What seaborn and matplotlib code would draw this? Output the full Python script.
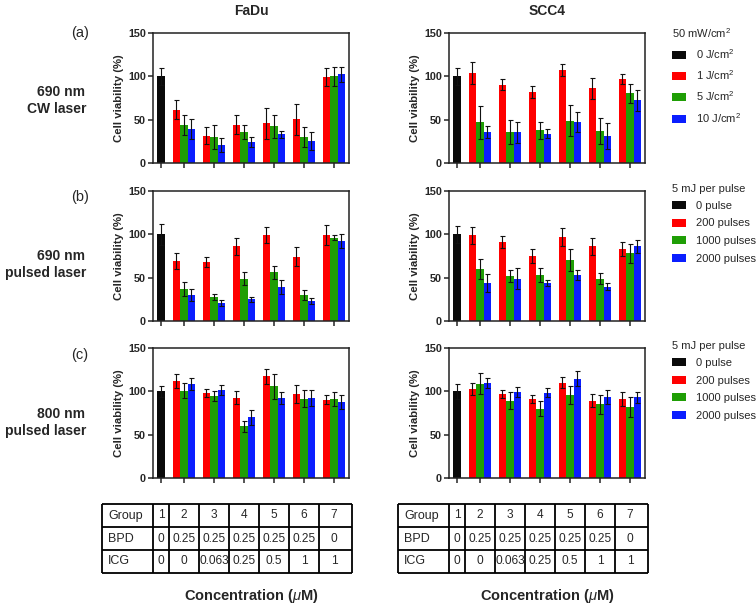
import numpy as np
import pandas as pd
import matplotlib
matplotlib.use("Agg")
import matplotlib.pyplot as plt
import seaborn as sns
from matplotlib.patches import Patch

sns.set_style("ticks")
plt.rcParams["font.family"] = ["Liberation Sans", "DejaVu Sans"]
plt.rcParams["mathtext.fontset"] = "custom"
plt.rcParams["mathtext.rm"] = "Liberation Sans"
plt.rcParams["mathtext.it"] = "Liberation Sans:italic"
plt.rcParams["mathtext.bf"] = "Liberation Sans:bold"

# ---------------- data ----------------
groups = ["1", "2", "3", "4", "5", "6", "7"]
cell_lines = ["FaDu", "SCC4"]
row_tags = ["(a)", "(b)", "(c)"]
row_line1 = ["690 nm", "690 nm", "800 nm"]
row_line2 = ["CW laser", "pulsed laser", "pulsed laser"]
legend_titles = ["50 mW/cm$^2$", "5 mJ per pulse", "5 mJ per pulse"]
cw_labels = ["0 J/cm$^2$", "1 J/cm$^2$", "5 J/cm$^2$", "10 J/cm$^2$"]
pulse_labels = ["0 pulse", "200 pulses", "1000 pulses", "2000 pulses"]
series_colors = ["#0a0a0a", "#ff0000", "#1f9e05", "#0a1eff"]

# (a) 690 nm CW laser
fadu_cw_ctrl, fadu_cw_ctrl_sd = 100, 10
fadu_cw_red = [61.5, 31.5, 44.0, 45.8, 50.4, 99.2]
fadu_cw_red_sd = [11, 10, 11, 18, 18, 10]
fadu_cw_green = [43.8, 30.0, 36.0, 42.3, 30.0, 100.0]
fadu_cw_green_sd = [12, 14, 8, 13, 12, 11]
fadu_cw_blue = [39.2, 21.0, 24.0, 33.0, 25.4, 102.3]
fadu_cw_blue_sd = [12, 8, 6, 4, 10, 9]

scc4_cw_ctrl, scc4_cw_ctrl_sd = 100, 10
scc4_cw_red = [103.8, 90.4, 82.3, 107.0, 86.0, 96.9]
scc4_cw_red_sd = [13, 6, 7, 7, 12, 6]
scc4_cw_green = [47.0, 36.0, 37.7, 49.0, 37.0, 80.4]
scc4_cw_green_sd = [19, 14, 10, 18, 15, 11]
scc4_cw_blue = [35.4, 35.4, 33.8, 47.3, 31.5, 72.3]
scc4_cw_blue_sd = [7, 12, 5, 12, 15, 12]

# (b) 690 nm pulsed laser
fadu_p690_ctrl, fadu_p690_ctrl_sd = 100, 12
fadu_p690_red = [69.2, 68.0, 86.0, 99.0, 74.0, 99.2]
fadu_p690_red_sd = [9, 6, 10, 9, 11, 12]
fadu_p690_green = [37.0, 27.3, 49.0, 56.0, 30.0, 96.0]
fadu_p690_green_sd = [8, 3.5, 7, 8, 5.5, 3]
fadu_p690_blue = [30.0, 20.8, 25.0, 39.0, 23.0, 92.7]
fadu_p690_blue_sd = [7, 3, 2.5, 8, 3, 8]

scc4_p690_ctrl, scc4_p690_ctrl_sd = 100, 10
scc4_p690_red = [98.8, 90.8, 75.4, 96.5, 86.0, 83.0]
scc4_p690_red_sd = [10, 7, 8, 10.5, 10, 8]
scc4_p690_green = [60.0, 52.0, 53.0, 70.0, 48.8, 78.0]
scc4_p690_green_sd = [11, 6.5, 8, 12.7, 6.6, 11]
scc4_p690_blue = [43.8, 48.8, 44.2, 53.0, 39.6, 86.0]
scc4_p690_blue_sd = [10, 12, 3.5, 6, 4, 8]

# (c) 800 nm pulsed laser
fadu_p800_ctrl, fadu_p800_ctrl_sd = 100, 6
fadu_p800_red = [111.5, 98.5, 92.7, 117.3, 97.3, 90.4]
fadu_p800_red_sd = [8, 4.6, 7.3, 8.5, 10.4, 5]
fadu_p800_green = [100.8, 95.0, 59.6, 105.8, 91.5, 91.5]
fadu_p800_green_sd = [9, 5.8, 6, 14.6, 10, 8]
fadu_p800_blue = [108.5, 101.5, 70.0, 92.7, 92.0, 87.3]
fadu_p800_blue_sd = [7, 5.4, 8.5, 7, 9, 8]

scc4_p800_ctrl, scc4_p800_ctrl_sd = 100, 8.5
scc4_p800_red = [103.0, 97.0, 91.5, 110.0, 89.2, 91.0]
scc4_p800_red_sd = [7, 4.6, 4.6, 6.5, 7.8, 7.7]
scc4_p800_green = [109.0, 89.2, 80.0, 96.0, 85.0, 81.5]
scc4_p800_green_sd = [12, 9.6, 8.5, 10.5, 10.8, 11.5]
scc4_p800_blue = [109.6, 99.2, 98.5, 114.6, 93.5, 93.0]
scc4_p800_blue_sd = [6, 5.8, 5, 9, 8.5, 6]

# table
table_rows = ["Group", "BPD", "ICG"]
bpd_conc = ["0", "0.25", "0.25", "0.25", "0.25", "0.25", "0"]
icg_conc = ["0", "0", "0.063", "0.25", "0.5", "1", "1"]

panels = [
    [(fadu_cw_ctrl, fadu_cw_ctrl_sd, fadu_cw_red, fadu_cw_red_sd, fadu_cw_green, fadu_cw_green_sd, fadu_cw_blue, fadu_cw_blue_sd),
     (scc4_cw_ctrl, scc4_cw_ctrl_sd, scc4_cw_red, scc4_cw_red_sd, scc4_cw_green, scc4_cw_green_sd, scc4_cw_blue, scc4_cw_blue_sd)],
    [(fadu_p690_ctrl, fadu_p690_ctrl_sd, fadu_p690_red, fadu_p690_red_sd, fadu_p690_green, fadu_p690_green_sd, fadu_p690_blue, fadu_p690_blue_sd),
     (scc4_p690_ctrl, scc4_p690_ctrl_sd, scc4_p690_red, scc4_p690_red_sd, scc4_p690_green, scc4_p690_green_sd, scc4_p690_blue, scc4_p690_blue_sd)],
    [(fadu_p800_ctrl, fadu_p800_ctrl_sd, fadu_p800_red, fadu_p800_red_sd, fadu_p800_green, fadu_p800_green_sd, fadu_p800_blue, fadu_p800_blue_sd),
     (scc4_p800_ctrl, scc4_p800_ctrl_sd, scc4_p800_red, scc4_p800_red_sd, scc4_p800_green, scc4_p800_green_sd, scc4_p800_blue, scc4_p800_blue_sd)],
]

# ---------------- layout ----------------
W, H = 756, 606
fig = plt.figure(figsize=(W / 100, H / 100), dpi=100)


def fx(px):
    return px / W


def fy(py):
    return 1 - py / H


GX = [0.23, 1, 2, 3, 4, 5, 6]          # group centres
OFF = [-0.25, 0.0, 0.25]              # red, green, blue offsets
XLIM = (-0.03, 6.5)
ax_left = [153, 449]
ax_top = [33, 191, 348]
ax_w, ax_h = 196, 130
series_names = ["s0", "s1", "s2", "s3"]
palette = dict(zip(series_names, series_colors))

for r in range(3):
    for c in range(2):
        ctrl, ctrl_sd, rv, rsd, gv, gsd, bv, bsd = panels[r][c]
        pos, val, sd, ser = [GX[0]], [ctrl], [ctrl_sd], ["s0"]
        for k, (vals, sds) in enumerate([(rv, rsd), (gv, gsd), (bv, bsd)]):
            for i in range(6):
                pos.append(GX[i + 1] + OFF[k])
                val.append(vals[i])
                sd.append(sds[i])
                ser.append(series_names[k + 1])
        df = pd.DataFrame({"pos": pos, "val": val, "sd": sd, "series": ser})
        ax = fig.add_axes([fx(ax_left[c]), fy(ax_top[r] + ax_h), fx(ax_w), ax_h / H])
        sns.barplot(data=df, x="pos", y="val", hue="series", hue_order=series_names,
                    palette=palette, native_scale=True, dodge=False, width=1.0,
                    errorbar=None, legend=False, linewidth=0, saturation=1, ax=ax)
        ax.errorbar(df["pos"], df["val"], yerr=df["sd"], fmt="none", ecolor="#111111",
                    elinewidth=0.8, capsize=1.8, capthick=0.8, zorder=5)
        ax.set_xlim(*XLIM)
        ax.set_ylim(0, 150)
        ax.set_xticks(GX)
        ax.set_xticklabels([])
        ax.set_yticks([0, 50, 100, 150])
        ax.set_yticklabels(["0", "50", "100", "150"], fontweight="bold", fontsize=7.8)
        ax.tick_params(axis="y", length=3.5, width=1.1, pad=1.5)
        ax.tick_params(axis="x", length=3.5, width=1.1)
        ax.set_xlabel("")
        ax.set_ylabel("Cell viability (%)", fontweight="bold", fontsize=8.2, labelpad=3)
        for s in ax.spines.values():
            s.set_visible(True)
            s.set_linewidth(1.1)
            s.set_color("#222222")

# column titles
for c, name in enumerate(cell_lines):
    fig.text(fx(ax_left[c] + ax_w / 2), fy(11), name, ha="center", va="center",
             fontsize=10, fontweight="bold")

# row labels
row_y = [33, 197, 355]
line2_x = [57, 46, 46]
for r in range(3):
    fig.text(fx(80), fy(row_y[r]), row_tags[r], ha="center", va="center", fontsize=10.5)
    fig.text(fx(61), fy(row_y[r] + 59), row_line1[r], ha="center", va="center",
             fontsize=10, fontweight="bold")
    fig.text(fx(line2_x[r]), fy(row_y[r] + 76), row_line2[r], ha="center", va="center",
             fontsize=10, fontweight="bold")

# legends
for r in range(3):
    labels = cw_labels if r == 0 else pulse_labels
    handles = [Patch(facecolor=col, edgecolor="none") for col in series_colors]
    leg = fig.legend(handles, labels, title=legend_titles[r], loc="upper left",
                     bbox_to_anchor=(fx(672), fy(ax_top[r] - 7)), frameon=False,
                     fontsize=8, title_fontsize=8, handlelength=1.25, handleheight=0.75,
                     handletextpad=0.9, labelspacing=0.68, borderaxespad=0, borderpad=0)
    leg._legend_box.align = "left"
    leg._legend_box.sep = 5

# tables
tab_left = [102, 398]
tab_top, tab_row_h = 504, 23
x_left_unit = (102 - 184) / 30 + 1
col_edges = [x_left_unit, XLIM[0], 0.5, 1.5, 2.5, 3.5, 4.5, 5.5, 6.6]
for c in range(2):
    tw = (6.6 - x_left_unit) * 30
    tax = fig.add_axes([fx(tab_left[c]), fy(tab_top + 3 * tab_row_h), fx(tw), 3 * tab_row_h / H])
    tax.set_xlim(x_left_unit, 6.6)
    tax.set_ylim(3, 0)
    tax.axis("off")
    tax.hlines([0, 1, 2, 3], x_left_unit, 6.6, color="black", lw=1.3, clip_on=False)
    tax.vlines(col_edges, 0, 3, color="black", lw=1.3, clip_on=False)
    rows = [groups, bpd_conc, icg_conc]
    centers = [(XLIM[0] + 0.5) / 2] + GX[1:]
    for i, rname in enumerate(table_rows):
        tax.text(x_left_unit + 0.2, i + 0.5, rname, ha="left", va="center", fontsize=9)
        for j, v in enumerate(rows[i]):
            tax.text(centers[j], i + 0.5, v, ha="center", va="center", fontsize=8.6)
    fig.text(fx(ax_left[c] + ax_w / 2), fy(596), "Concentration ($\\mu$M)", ha="center",
             va="center", fontsize=10.5, fontweight="bold")

fig.savefig("out.png", dpi=100)
